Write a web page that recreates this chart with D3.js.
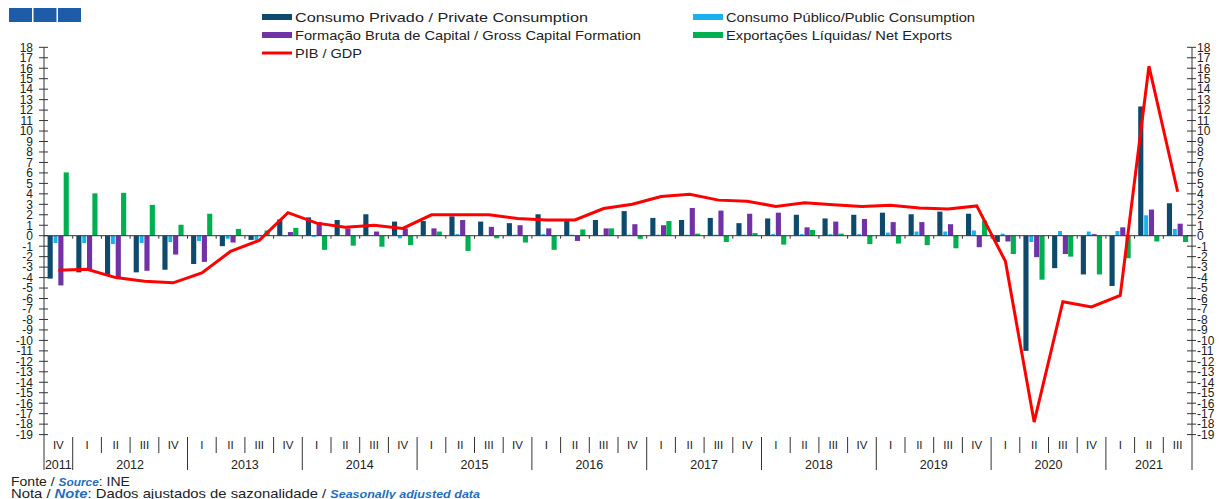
<!DOCTYPE html>
<html><head><meta charset="utf-8">
<script src="https://cdn.jsdelivr.net/npm/d3@7"></script>
<style>body{margin:0;background:#fff}svg{display:block;font-family:"Liberation Sans",Arial,sans-serif}</style>
</head><body><svg id="c" width="1219" height="499"></svg>
<script>
const quarterLabels = ["IV","I","II","III","IV","I","II","III","IV","I","II","III","IV","I","II","III","IV","I","II","III","IV","I","II","III","IV","I","II","III","IV","I","II","III","IV","I","II","III","IV","I","II","III"];
const yearLabels = ["2011","2012","2013","2014","2015","2016","2017","2018","2019","2020","2021"];
const yearQuarterCounts = [1,4,4,4,4,4,4,4,4,4,3];
const privateConsumption = [-4.1,-3.5,-3.75,-3.5,-3.25,-2.7,-1.0,-0.4,1.55,1.75,1.5,2.05,1.35,1.4,1.85,1.35,1.2,2.05,1.4,1.5,2.35,1.7,1.5,1.7,1.2,1.65,2.0,1.65,2.0,2.2,2.05,2.3,2.1,-0.6,-11.0,-3.1,-3.7,-4.8,12.35,3.1];
const publicConsumption = [-0.7,-0.7,-0.8,-0.7,-0.6,-0.5,-0.3,-0.4,-0.05,-0.1,0.05,0.05,-0.25,0.05,0.15,0.05,0.1,0.15,0.1,0.05,0.1,0.1,0.1,0.1,0.1,0.15,0.15,0.15,0.15,0.3,0.4,0.4,0.5,0.2,-0.6,0.45,0.4,0.45,1.95,0.65];
const grossCapitalFormation = [-4.75,-3.3,-4.05,-3.35,-1.8,-2.5,-0.65,-0.05,0.35,1.3,0.7,0.4,0.7,0.7,1.5,0.85,1.0,0.7,-0.5,0.7,1.1,1.0,2.65,2.4,2.1,2.2,0.8,1.35,1.6,1.3,1.3,1.1,-1.1,-0.55,-2.05,-1.75,0.15,0.8,2.5,1.15];
const netExports = [6.05,4.05,4.1,2.95,1.05,2.1,0.65,0.5,0.75,-1.35,-0.95,-1.05,-0.9,0.4,-1.45,-0.25,-0.65,-1.35,0.6,0.7,-0.3,1.4,0.2,-0.6,0.25,-0.85,0.55,0.2,-0.8,-0.75,-0.9,-1.2,1.45,-1.75,-4.2,-2.0,-3.7,-2.15,-0.55,-0.6];
const gdp = [-3.3,-3.2,-4.0,-4.35,-4.5,-3.55,-1.5,-0.45,2.2,1.2,0.8,1.0,0.7,2.0,2.0,2.0,1.65,1.5,1.5,2.6,3.0,3.75,3.95,3.4,3.3,2.8,3.15,2.95,2.8,2.9,2.65,2.55,2.85,-2.45,-17.8,-6.3,-6.8,-5.7,16.2,4.2];
const yTicks = d3.range(-19, 19);
const seriesNames = ["Consumo Privado / Private Consumption","Consumo Público/Public Consumption","Formação Bruta de Capital / Gross Capital Formation","Exportações Líquidas/ Net Exports"];
const seriesColors = ["#0d4a6c","#19b2ee","#7132a6","#00b050"];
const gdpName = "PIB / GDP";

const svg = d3.select("#c");
const L = 44, R = 1192, T = 47.3, B = 434.6;
const idx = d3.range(quarterLabels.length);
const x = d3.scaleBand().domain(idx).range([L, R]).padding(0);
const y = d3.scaleLinear().domain([-19, 18]).range([B, T]);
const xs = d3.scaleBand().domain([0,1,2,3]).range([3.6, 24.8]).paddingInner(0.04);
const series = [privateConsumption, publicConsumption, grossCapitalFormation, netExports];

series.forEach((vals, si) => {
  svg.append("g").selectAll("rect").data(vals).join("rect")
    .attr("x", (d,i) => x(i) + xs(si) + (si===1?0.6:0))
    .attr("width", xs.bandwidth() - (si===1?1.2:0))
    .attr("y", d => y(Math.max(0,d)))
    .attr("height", d => Math.abs(y(d) - y(0)))
    .attr("fill", seriesColors[si]);
});

svg.append("line").attr("x1", L).attr("x2", R).attr("y1", y(0)).attr("y2", y(0)).attr("stroke", "#333").attr("stroke-width", 1);
svg.append("g").selectAll("line").data(idx.slice(1)).join("line")
  .attr("x1", i => x(i)).attr("x2", i => x(i)).attr("y1", y(0)).attr("y2", y(0)+3)
  .attr("stroke", "#333").attr("stroke-width", 1);

svg.append("path").datum(gdp)
  .attr("d", d3.line().x((d,i) => x(i) + x.bandwidth()/2).y(d => y(d)))
  .attr("fill", "none").attr("stroke", "#ff0000").attr("stroke-width", 3).attr("stroke-linejoin", "miter");

[[L, -1], [R, 1]].forEach(([ax, side]) => {
  const g = svg.append("g");
  g.append("line").attr("x1", ax).attr("x2", ax).attr("y1", T).attr("y2", 470).attr("stroke", "#333");
  g.selectAll("line.t").data(yTicks).join("line").attr("class","t")
    .attr("x1", ax-5).attr("x2", ax+4).attr("y1", d => y(d)).attr("y2", d => y(d)).attr("stroke", "#333");
  g.selectAll("text").data(yTicks).join("text")
    .attr("x", side < 0 ? ax - 11 : ax + 5).attr("y", d => y(d)).attr("dy", "0.36em")
    .attr("text-anchor", side < 0 ? "end" : "start")
    .attr("font-size", 12).attr("fill", "#222").text(d => d);
});

const gq = svg.append("g");
gq.selectAll("text").data(idx).join("text")
  .attr("x", i => x(i) + x.bandwidth()/2).attr("y", 445).attr("dy","0.36em")
  .attr("text-anchor","middle").attr("font-size", 11.5).attr("fill","#222").text(i => quarterLabels[i]);
const yearStarts = yearQuarterCounts.map((c, k) => d3.sum(yearQuarterCounts.slice(0, k)));
const yearStartSet = new Set(yearStarts);
gq.selectAll("line").data(idx.slice(1)).join("line")
  .attr("x1", i => x(i)).attr("x2", i => x(i)).attr("y1", 437)
  .attr("y2", i => yearStartSet.has(i) ? 470 : 453).attr("stroke", "#333");
svg.append("g").selectAll("text").data(yearLabels).join("text")
  .attr("x", (d,k) => (x(yearStarts[k]) + x(yearStarts[k] + yearQuarterCounts[k]-1) + x.bandwidth())/2)
  .attr("y", 464).attr("dy","0.36em").attr("text-anchor","middle").attr("font-size", 12.5).attr("fill","#222").text(d => d);

const legendPos = [[262,17],[693,17],[262,35],[693,35]];
const legendWidths = [293, 249, 346, 226];
seriesNames.forEach((n, si) => {
  const [lx, ly] = legendPos[si];
  svg.append("rect").attr("x", lx).attr("y", ly-3).attr("width", 30).attr("height", 6).attr("fill", seriesColors[si]);
  svg.append("text").attr("x", lx+33).attr("y", ly).attr("dy","0.36em").attr("font-size", 13.5).attr("fill","#222")
    .attr("textLength", legendWidths[si]).attr("lengthAdjust", "spacingAndGlyphs").text(n);
});
svg.append("line").attr("x1", 262).attr("x2", 292).attr("y1", 53).attr("y2", 53).attr("stroke", "#ff0000").attr("stroke-width", 3);
svg.append("text").attr("x", 295).attr("y", 53).attr("dy","0.36em").attr("font-size", 13.5).attr("fill","#222")
  .attr("textLength", 67).attr("lengthAdjust", "spacingAndGlyphs").text(gdpName);

svg.append("g").selectAll("rect").data([0,1,2]).join("rect")
  .attr("x", d => 9 + d*24.5).attr("y", 8).attr("width", 23).attr("height", 14).attr("fill", "#1c5ca8");

const t1 = svg.append("text").attr("x", 11).attr("y", 486).attr("font-size", 13).attr("fill","#222")
  .attr("textLength", 119).attr("lengthAdjust", "spacingAndGlyphs");
t1.append("tspan").text("Fonte / ");
t1.append("tspan").attr("fill","#1f6fc0").attr("font-style","italic").attr("font-weight","bold").attr("font-size",11).text("Source");
t1.append("tspan").text(":  INE");
const t2 = svg.append("text").attr("x", 11).attr("y", 497.5).attr("font-size", 13).attr("fill","#222")
  .attr("textLength", 469).attr("lengthAdjust", "spacingAndGlyphs");
t2.append("tspan").text("Nota / ");
t2.append("tspan").attr("fill","#1f6fc0").attr("font-style","italic").attr("font-weight","bold").text("Note");
t2.append("tspan").text(": Dados ajustados de sazonalidade / ");
t2.append("tspan").attr("fill","#1f6fc0").attr("font-style","italic").attr("font-weight","bold").attr("font-size",11).text("Seasonally adjusted data");
</script></body></html>
